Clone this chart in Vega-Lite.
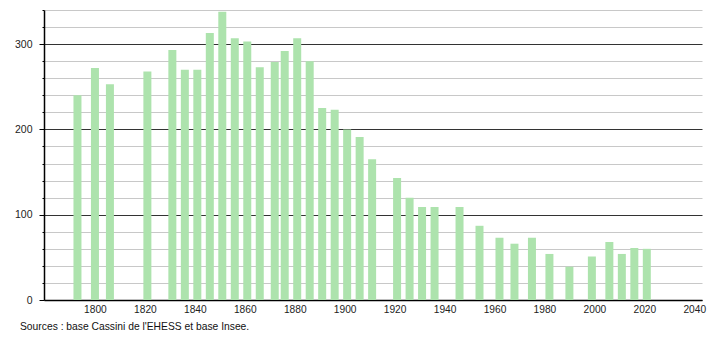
{
  "$schema": "https://vega.github.io/schema/vega-lite/v6.json",
  "width": 658,
  "height": 290,
  "autosize": {"type": "none"},
  "padding": {"left": 44, "top": 10, "right": 8, "bottom": 40},
  "background": "white",
  "config": {
    "view": {"stroke": null},
    "font": "Liberation Sans"
  },
  "title": {
    "text": "Sources : base Cassini de l'EHESS et base Insee.",
    "orient": "bottom",
    "anchor": "start",
    "frame": "group",
    "dx": -24,
    "offset": 8,
    "fontSize": 10.3,
    "fontWeight": "normal",
    "color": "#111",
    "font": "Liberation Sans"
  },
  "data": {
    "values": [
      {"year": 1793, "pop": 240},
      {"year": 1800, "pop": 272},
      {"year": 1806, "pop": 253},
      {"year": 1821, "pop": 268},
      {"year": 1831, "pop": 293},
      {"year": 1836, "pop": 270},
      {"year": 1841, "pop": 270},
      {"year": 1846, "pop": 313},
      {"year": 1851, "pop": 338},
      {"year": 1856, "pop": 307},
      {"year": 1861, "pop": 303},
      {"year": 1866, "pop": 273},
      {"year": 1872, "pop": 279},
      {"year": 1876, "pop": 292},
      {"year": 1881, "pop": 307},
      {"year": 1886, "pop": 280},
      {"year": 1891, "pop": 225},
      {"year": 1896, "pop": 223},
      {"year": 1901, "pop": 200},
      {"year": 1906, "pop": 191},
      {"year": 1911, "pop": 165},
      {"year": 1921, "pop": 143},
      {"year": 1926, "pop": 120},
      {"year": 1931, "pop": 109},
      {"year": 1936, "pop": 109},
      {"year": 1946, "pop": 109},
      {"year": 1954, "pop": 87},
      {"year": 1962, "pop": 73},
      {"year": 1968, "pop": 66},
      {"year": 1975, "pop": 73},
      {"year": 1982, "pop": 54},
      {"year": 1990, "pop": 39},
      {"year": 1999, "pop": 51},
      {"year": 2006, "pop": 68},
      {"year": 2011, "pop": 54},
      {"year": 2016, "pop": 61},
      {"year": 2021, "pop": 60}
    ]
  },
  "mark": {"type": "bar", "width": 8, "color": "#ade3ad"},
  "encoding": {
    "x": {
      "field": "year",
      "type": "quantitative",
      "scale": {"domain": [1779.6, 2043.1], "nice": false, "zero": false, "padding": 0},
      "axis": {
        "title": null,
        "values": [1800, 1820, 1840, 1860, 1880, 1900, 1920, 1940, 1960, 1980, 2000, 2020, 2040],
        "format": "d",
        "grid": false,
        "ticks": false,
        "labelPadding": 4,
        "labelFontSize": 10.2,
        "labelColor": "#222",
        "labelFont": "Liberation Sans",
        "domainColor": "#000",
        "domainWidth": 1.5,
        "labelFlush": false
      }
    },
    "y": {
      "field": "pop",
      "type": "quantitative",
      "scale": {"domain": [0, 340], "nice": false, "padding": 0},
      "axis": {
        "title": null,
        "values": [0, 20, 40, 60, 80, 100, 120, 140, 160, 180, 200, 220, 240, 260, 280, 300, 320, 340],
        "labelExpr": "datum.value % 100 === 0 ? datum.label : ''",
        "grid": true,
        "gridColor": {"condition": {"test": "datum.value % 100 === 0", "value": "#333"}, "value": "#c8c8c8"},
        "gridWidth": 1,
        "tickColor": "#000",
        "tickSize": {"condition": {"test": "datum.value % 100 === 0", "value": 5}, "value": 2},
        "labelPadding": 7,
        "labelFontSize": 10.5,
        "labelColor": "#222",
        "labelFont": "Liberation Sans",
        "domainColor": "#000",
        "domainWidth": 1.5
      }
    }
  }
}
